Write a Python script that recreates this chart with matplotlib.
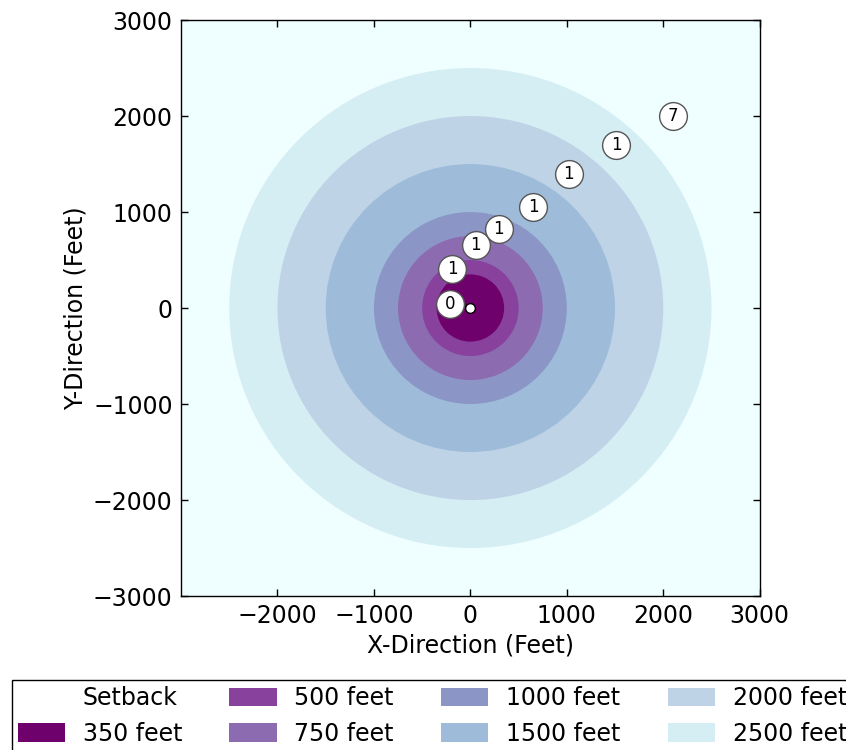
import matplotlib
matplotlib.use("Agg")
import matplotlib.pyplot as plt
from matplotlib.patches import Circle, Patch

# Setback distances (feet) and their ring colours
setback_radii = [350, 500, 750, 1000, 1500, 2000, 2500]
setback_labels = ["350 feet", "500 feet", "750 feet", "1000 feet",
                  "1500 feet", "2000 feet", "2500 feet"]
ring_colors = ["#6e016b", "#88419d", "#8c6bb1", "#8c96c6",
               "#9ebcda", "#bfd3e6", "#d5eef3"]
background_color = "#effefe"

# Counted features located along the diagonal
point_x = [-210, -190, 55, 295, 650, 1020, 1510, 2100]
point_y = [40, 405, 655, 825, 1050, 1395, 1700, 2000]
point_counts = [0, 1, 1, 1, 1, 1, 1, 7]

# Site centre
center_x, center_y = 0, 0

plt.rcParams["font.family"] = "DejaVu Sans"
fig = plt.figure(figsize=(8.46, 7.5), dpi=100)
ax = fig.add_axes([0.214, 0.2053, 0.684, 0.768])
ax.set_facecolor(background_color)

# Draw rings from the outside in
for r, c in sorted(zip(setback_radii, ring_colors), reverse=True):
    ax.add_patch(Circle((center_x, center_y), r, facecolor=c, edgecolor="none", zorder=1))

ax.plot(center_x, center_y, "o", ms=7, mfc="white", mec="black", mew=1, zorder=3)

for x, y, n in zip(point_x, point_y, point_counts):
    ax.plot(x, y, "o", ms=20, mfc="white", mec="#555555", mew=1, zorder=4)
    ax.text(x, y, str(n), ha="center", va="center", fontsize=12, zorder=5)

ax.set_xlim(-3000, 3000)
ax.set_ylim(-3000, 3000)
ax.set_xticks([-2000, -1000, 0, 1000, 2000, 3000])
ax.set_yticks([-3000, -2000, -1000, 0, 1000, 2000, 3000])
ax.tick_params(direction="in", top=True, right=True, length=5, width=1,
               labelsize=17, pad=6)
for s in ax.spines.values():
    s.set_linewidth(1)
    s.set_color("black")
ax.set_xlabel("X-Direction (Feet)", fontsize=17, labelpad=4)
ax.set_ylabel("Y-Direction (Feet)", fontsize=17, labelpad=4)

handles = [Patch(facecolor="none", edgecolor="none", label="Setback")]
handles += [Patch(facecolor=c, edgecolor="none", label=l)
            for c, l in zip(ring_colors, setback_labels)]
leg = fig.legend(handles=handles, ncol=4, loc="upper left",
                 bbox_to_anchor=(0.014, 0.0933), bbox_transform=fig.transFigure,
                 fontsize=17, fancybox=False, framealpha=1, edgecolor="black",
                 borderaxespad=0, borderpad=0.25, handlelength=2.0,
                 handleheight=0.8, handletextpad=0.75, columnspacing=2.0)
leg.get_frame().set_linewidth(1)

fig.savefig("out.png", dpi=100)
